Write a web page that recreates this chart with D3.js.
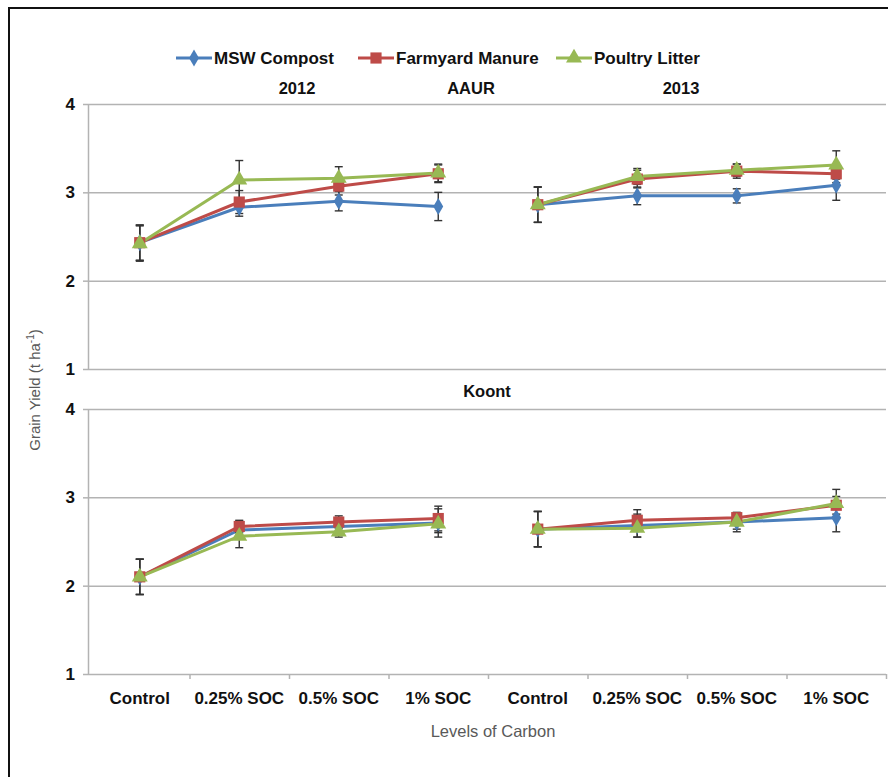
<!DOCTYPE html>
<html>
<head>
<meta charset="utf-8">
<script src="https://cdn.jsdelivr.net/npm/d3@7"></script>
<style>
  body { margin: 0; background: #fff; }
  svg text { font-family: "Liberation Sans", Arial, sans-serif; }
</style>
</head>
<body>
<svg id="chart" width="888" height="777"></svg>
<script>
// Categories and labels
const levels = ['Control', '0.25% SOC', '0.5% SOC', '1% SOC'];
const years = ['2012', '2013'];
const seriesNames = ['MSW Compost', 'Farmyard Manure', 'Poultry Litter'];
const yTicks = [1, 2, 3, 4];

// AAUR values: 2012 (first four) then 2013 (last four)
const aaurMSW = [2.43, 2.83, 2.90, 2.84, 2.86, 2.96, 2.96, 3.08];
const aaurFYM = [2.43, 2.89, 3.07, 3.21, 2.86, 3.15, 3.24, 3.21];
const aaurPL  = [2.42, 3.14, 3.16, 3.22, 2.86, 3.18, 3.25, 3.31];
const aaurMSWErr = [0.20, 0.10, 0.11, 0.16, 0.20, 0.10, 0.08, 0.17];
const aaurFYMErr = [0.20, 0.13, 0.10, 0.10, 0.20, 0.10, 0.08, 0.10];
const aaurPLErr  = [0.20, 0.22, 0.13, 0.10, 0.20, 0.09, 0.07, 0.16];

// Koont values
const koontMSW = [2.10, 2.63, 2.67, 2.71, 2.64, 2.68, 2.72, 2.77];
const koontFYM = [2.10, 2.67, 2.72, 2.76, 2.64, 2.74, 2.77, 2.91];
const koontPL  = [2.10, 2.56, 2.61, 2.70, 2.64, 2.65, 2.72, 2.93];
const koontMSWErr = [0.20, 0.10, 0.07, 0.16, 0.20, 0.13, 0.11, 0.16];
const koontFYMErr = [0.20, 0.07, 0.07, 0.14, 0.20, 0.12, 0.05, 0.10];
const koontPLErr  = [0.20, 0.13, 0.06, 0.10, 0.20, 0.10, 0.08, 0.16];

const colors = ['#4a7ebb', '#be4b48', '#98b954'];
const symbols = [d3.symbolDiamond, d3.symbolSquare, d3.symbolTriangle];
const symbolSizes = [85, 125, 110];

const svg = d3.select('#chart');

// outer frame (cropped on the right/bottom)
svg.append('path')
    .attr('d', 'M9,790 L9,8 L900,8')
    .attr('fill', 'none')
    .attr('stroke', '#111')
    .attr('stroke-width', 2);

const xLabels = years.flatMap(() => levels);
const x = d3.scaleBand().domain(d3.range(xLabels.length)).range([90, 886]);
const xEdge = d3.scaleLinear().domain([0, xLabels.length]).range([90, 886]);
const cx = i => x(i) + x.bandwidth() / 2;

const panels = [
    { top: 104, bottom: 369, series: [aaurMSW, aaurFYM, aaurPL], errs: [aaurMSWErr, aaurFYMErr, aaurPLErr] },
    { top: 409, bottom: 674, series: [koontMSW, koontFYM, koontPL], errs: [koontMSWErr, koontFYMErr, koontPLErr] }
];

panels.forEach((p, pi) => {
    const y = d3.scaleLinear().domain([1, 4]).range([p.bottom, p.top]);
    const g = svg.append('g');

    // gridlines
    g.append('g')
        .attr('transform', 'translate(88,0)')
        .call(d3.axisLeft(y).tickValues(yTicks).tickSize(-798).tickFormat(''))
        .call(a => a.select('.domain').remove())
        .call(a => a.selectAll('line').attr('stroke', '#b3b3b3').attr('stroke-width', 1.5));

    // y axis with labels
    g.append('g')
        .attr('transform', 'translate(88,0)')
        .call(d3.axisLeft(y).tickValues(yTicks).tickSize(5).tickSizeOuter(0).tickPadding(8).tickFormat(d3.format('d')))
        .call(a => a.select('.domain').attr('stroke', '#b3b3b3').attr('stroke-width', 1.5))
        .call(a => a.selectAll('line').attr('stroke', '#b3b3b3').attr('stroke-width', 1.5))
        .call(a => a.selectAll('text')
            .attr('font-size', 17).attr('font-weight', 'bold').attr('fill', '#111')
            .attr('font-family', '"Liberation Sans", Arial, sans-serif'));

    // series: two separate segments, one per year
    p.series.forEach((vals, si) => {
        const line = d3.line().x(d => cx(d.i)).y(d => y(d.v));
        years.forEach((yr, yi) => {
            const pts = vals.map((v, i) => ({ i, v })).slice(yi * 4, yi * 4 + 4);
            g.append('path')
                .datum(pts)
                .attr('d', line)
                .attr('fill', 'none')
                .attr('stroke', colors[si])
                .attr('stroke-width', 3);
        });
    });

    // error bars
    p.series.forEach((vals, si) => {
        vals.forEach((v, i) => {
            const e = p.errs[si][i];
            const xx = cx(i);
            const eb = g.append('g').attr('stroke', '#333').attr('stroke-width', 1.4);
            eb.append('line').attr('x1', xx).attr('x2', xx).attr('y1', y(v - e)).attr('y2', y(v + e));
            eb.append('line').attr('x1', xx - 4).attr('x2', xx + 4).attr('y1', y(v - e)).attr('y2', y(v - e));
            eb.append('line').attr('x1', xx - 4).attr('x2', xx + 4).attr('y1', y(v + e)).attr('y2', y(v + e));
        });
    });

    // markers
    p.series.forEach((vals, si) => {
        g.selectAll(null)
            .data(vals.map((v, i) => ({ i, v })))
            .enter()
            .append('path')
            .attr('transform', d => `translate(${cx(d.i)},${y(d.v)})`)
            .attr('d', d3.symbol().type(symbols[si]).size(symbolSizes[si]))
            .attr('fill', colors[si]);
    });

    // bottom axis
    if (pi === 1) {
        g.append('g')
            .attr('transform', `translate(0,${p.bottom})`)
            .call(d3.axisBottom(xEdge).tickValues(d3.range(1, 9)).tickSize(5).tickSizeOuter(0).tickFormat(''))
            .call(a => a.select('.domain').remove())
            .call(a => a.selectAll('line').attr('stroke', '#b3b3b3').attr('stroke-width', 1.5));
        g.append('g')
            .attr('transform', `translate(0,${p.bottom})`)
            .call(d3.axisBottom(x).tickSize(0).tickPadding(18).tickFormat(i => xLabels[i]))
            .call(a => a.select('.domain').remove())
            .call(a => a.selectAll('text')
                .attr('font-size', 17).attr('font-weight', 'bold').attr('fill', '#111')
                .attr('font-family', '"Liberation Sans", Arial, sans-serif'));
    }
});

// panel titles
const titles = [
    { t: '2012', x: 297, y: 94 },
    { t: 'AAUR', x: 471, y: 94 },
    { t: '2013', x: 681, y: 94 },
    { t: 'Koont', x: 487, y: 397 }
];
svg.selectAll('.ptitle')
    .data(titles)
    .enter()
    .append('text')
    .attr('class', 'ptitle')
    .attr('x', d => d.x)
    .attr('y', d => d.y)
    .attr('text-anchor', 'middle')
    .attr('font-size', 16.5)
    .attr('font-weight', 'bold')
    .attr('fill', '#111')
    .text(d => d.t);

// legend
const legendX = [176, 358, 556];
const legend = svg.append('g');
seriesNames.forEach((name, si) => {
    const lx = legendX[si];
    legend.append('line')
        .attr('x1', lx).attr('x2', lx + 36).attr('y1', 58).attr('y2', 58)
        .attr('stroke', colors[si]).attr('stroke-width', 3);
    legend.append('path')
        .attr('transform', `translate(${lx + 18},58)`)
        .attr('d', d3.symbol().type(symbols[si]).size(symbolSizes[si]))
        .attr('fill', colors[si]);
    legend.append('text')
        .attr('x', lx + 38).attr('y', 64)
        .attr('font-size', 17).attr('font-weight', 'bold').attr('fill', '#111')
        .text(name);
});

// axis titles
const yTitle = svg.append('text')
    .attr('transform', 'translate(40,390) rotate(-90)')
    .attr('text-anchor', 'middle')
    .attr('font-size', 15)
    .attr('fill', '#595959');
yTitle.append('tspan').text('Grain Yield (t ha');
yTitle.append('tspan').attr('font-size', 10).attr('dy', -6).text('-1');
yTitle.append('tspan').attr('dy', 6).text(')');

svg.append('text')
    .attr('x', 493).attr('y', 737)
    .attr('text-anchor', 'middle')
    .attr('font-size', 16.5)
    .attr('fill', '#595959')
    .text('Levels of Carbon');
</script>
</body>
</html>
